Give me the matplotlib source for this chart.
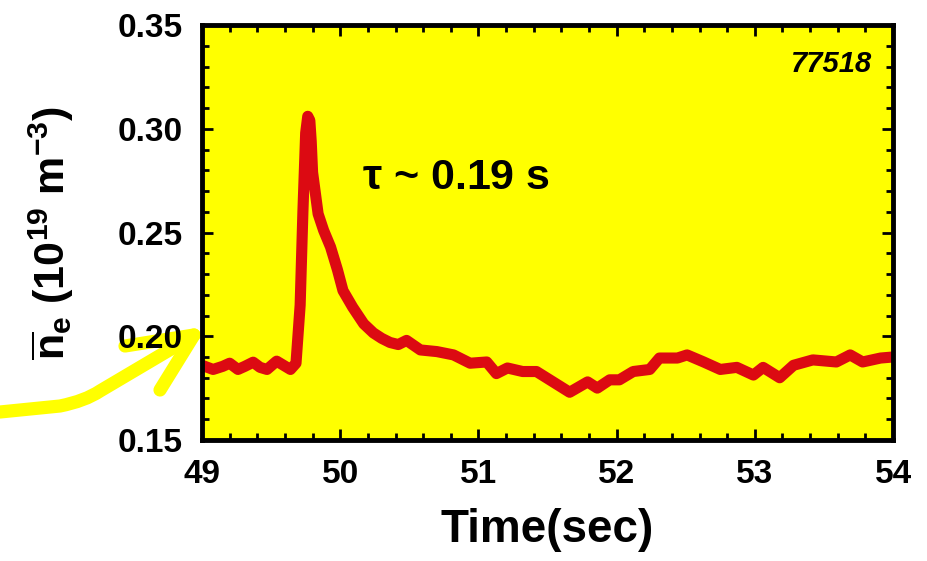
import matplotlib
matplotlib.use("Agg")
import matplotlib.pyplot as plt
from matplotlib.ticker import MultipleLocator, FormatStrFormatter
from matplotlib.path import Path
from matplotlib.patches import PathPatch
from matplotlib.lines import Line2D

time_s = [49.00, 49.08, 49.15, 49.20, 49.26, 49.31, 49.37, 49.42, 49.47, 49.54,
          49.59, 49.64, 49.68, 49.71, 49.73, 49.75, 49.765, 49.78, 49.79, 49.80,
          49.84, 49.88, 49.93, 49.98, 50.02, 50.09, 50.17, 50.24, 50.30, 50.36,
          50.42, 50.48, 50.58, 50.70, 50.82, 50.94, 51.06, 51.13, 51.21, 51.32,
          51.42, 51.54, 51.66, 51.79, 51.86, 51.95, 52.02, 52.12, 52.24, 52.31,
          52.44, 52.51, 52.63, 52.75, 52.87, 52.99, 53.06, 53.18, 53.28, 53.42,
          53.59, 53.69, 53.78, 53.91, 54.00]
density = [0.186, 0.184, 0.1855, 0.187, 0.184, 0.1855, 0.1875, 0.185, 0.184, 0.188,
           0.186, 0.184, 0.187, 0.215, 0.260, 0.298, 0.306, 0.304, 0.294, 0.279,
           0.259, 0.251, 0.243, 0.232, 0.222, 0.214, 0.206, 0.2016, 0.199, 0.197,
           0.196, 0.198, 0.1934, 0.1926, 0.191, 0.187, 0.1876, 0.182, 0.1847, 0.183,
           0.183, 0.178, 0.173, 0.178, 0.175, 0.179, 0.179, 0.183, 0.184, 0.1895,
           0.1895, 0.191, 0.1876, 0.184, 0.185, 0.1813, 0.185, 0.180, 0.186, 0.1886,
           0.1876, 0.191, 0.1876, 0.1895, 0.190]
x_ticks = [49, 50, 51, 52, 53, 54]
y_ticks = [0.15, 0.20, 0.25, 0.30, 0.35]
shot_label = "77518"
tau_label = r"$\mathbf{\tau}$ ~ 0.19 s"

fam = "Liberation Sans"
plt.rcParams["font.family"] = [fam, "DejaVu Sans"]
plt.rcParams["mathtext.fontset"] = "custom"
plt.rcParams["mathtext.rm"] = fam + ":bold"
plt.rcParams["mathtext.bf"] = fam + ":bold"
plt.rcParams["mathtext.it"] = fam + ":bold:italic"

fig = plt.figure(figsize=(9.28, 5.61), dpi=100)
fig.patch.set_facecolor("white")
ax = fig.add_axes([0.2177, 0.2157, 0.7446, 0.7397])
ax.set_facecolor("#FFFF00")

ax.plot(time_s, density, color="#DC0A12", lw=8, solid_joinstyle="round",
        solid_capstyle="butt")

ax.set_xlim(49, 54)
ax.set_ylim(0.15, 0.35)
ax.set_xticks(x_ticks)
ax.set_yticks(y_ticks)
ax.yaxis.set_major_formatter(FormatStrFormatter("%.2f"))
ax.xaxis.set_minor_locator(MultipleLocator(0.2))
ax.yaxis.set_minor_locator(MultipleLocator(0.01))
ax.tick_params(which="both", direction="in", top=True, right=True, width=2, color="black")
ax.tick_params(which="major", length=8, labelsize=24)
ax.tick_params(axis="x", which="major", pad=14)
ax.tick_params(axis="y", which="major", pad=14)
ax.tick_params(which="minor", length=5)
for lab in ax.get_xticklabels() + ax.get_yticklabels():
    lab.set_fontweight("bold")
for sp in ax.spines.values():
    sp.set_linewidth(3.5)

ax.set_xlabel("Time(sec)", fontsize=33, fontweight="bold", labelpad=13)
ax.set_ylabel(r"$\overline{\mathbf{n}}_{\mathbf{e}}$ (10$^{\mathbf{19}}$ m$^{\mathbf{-3}}$)",
              fontsize=31, fontweight="bold", labelpad=30)

ax.text(0.232, 0.632, tau_label, transform=ax.transAxes, fontsize=31,
        fontweight="bold", ha="left", va="center")
ax.text(0.97, 0.905, shot_label, transform=ax.transAxes, fontsize=21,
        fontweight="bold", style="italic", ha="right", va="center")

# yellow hand-drawn arrow (figure pixel coords, y from top), drawn beneath the axes
W, H = 928, 561
def P(x, y):
    return (x / W, 1 - y / H)
fig.add_artist(PathPatch(Path([P(0, 412), P(60, 406), P(85, 401), P(100, 391), P(193, 336)],
                              [Path.MOVETO, Path.LINETO, Path.CURVE3, Path.CURVE3, Path.LINETO]),
                         facecolor="none", edgecolor="#FFFF00", lw=9.5,
                         transform=fig.transFigure, capstyle="round", joinstyle="round",
                         zorder=-1))
arrow_kw = dict(color="#FFFF00", lw=9.5, solid_capstyle="round", transform=fig.transFigure,
                zorder=-1)
for tail in [(125, 346), (160, 390)]:
    fig.add_artist(Line2D([tail[0] / W, 194 / W], [1 - tail[1] / H, 1 - 335 / H], **arrow_kw))

fig.savefig("out.png", dpi=100, facecolor="white")
